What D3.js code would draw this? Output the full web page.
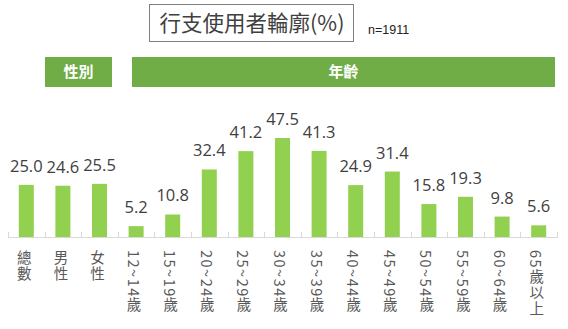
<!DOCTYPE html>
<html>
<head>
<meta charset="utf-8">
<script src="https://cdn.jsdelivr.net/npm/d3@7/dist/d3.min.js"></script>
<style>
  html, body { margin: 0; padding: 0; background: #fff; }
  svg { display: block; }
  .vlabel { writing-mode: vertical-rl; text-orientation: mixed; }
</style>
</head>
<body>
<svg id="chart" width="568" height="329"></svg>
<script>
// Categories and percentages
const categories = ["總數", "男性", "女性", "12~14歲", "15~19歲", "20~24歲", "25~29歲", "30~34歲",
                    "35~39歲", "40~44歲", "45~49歲", "50~54歲", "55~59歲", "60~64歲", "65歲以上"];
const values = [25.0, 24.6, 25.5, 5.2, 10.8, 32.4, 41.2, 47.5, 41.3, 24.9, 31.4, 15.8, 19.3, 9.8, 5.6];
const groupLabels = ["性別", "年齡"];
const titleText = "行支使用者輪廓(%)";
const sampleText = "n=1911";

const svg = d3.select("#chart");
const CJK = "'Noto Sans CJK TC', 'Noto Sans', sans-serif";
const NUM = "'Open Sans', 'Noto Sans', sans-serif";

const plot = { left: 8, right: 557, base: 237, top: 138 };

const x = d3.scaleBand().domain(categories).range([plot.left, plot.right]).paddingInner(0.59).paddingOuter(0.295);
const xEdge = d3.scaleBand().domain(categories).range([plot.left, plot.right]);
const y = d3.scaleLinear().domain([0, 47.5]).range([plot.base, plot.top]);

// Title box
svg.append("rect").attr("x", 149.5).attr("y", 4.5).attr("width", 204).attr("height", 37)
  .attr("fill", "#fff").attr("stroke", "#7f7f7f").attr("stroke-width", 1);
svg.append("text").attr("x", 252).attr("y", 31).attr("text-anchor", "middle")
  .attr("font-family", CJK).attr("font-size", 21.5).attr("fill", "#404040").text(titleText);
svg.append("text").attr("x", 368).attr("y", 34)
  .attr("font-family", "'Liberation Sans', Arial, sans-serif").attr("font-size", 12.5).attr("fill", "#222").text(sampleText);

// Group header bands
const headers = [
  { label: groupLabels[0], x0: 45, x1: 112 },
  { label: groupLabels[1], x0: 132, x1: 555 }
];
const hg = svg.append("g");
hg.selectAll("rect").data(headers).join("rect")
  .attr("x", d => d.x0).attr("y", 57).attr("width", d => d.x1 - d.x0).attr("height", 30)
  .attr("fill", "#70ad47");
hg.selectAll("text").data(headers).join("text")
  .attr("x", d => (d.x0 + d.x1) / 2).attr("y", 77).attr("text-anchor", "middle")
  .attr("font-family", CJK).attr("font-size", 15).attr("font-weight", "bold").attr("fill", "#fff")
  .text(d => d.label);

// Bars
svg.append("g").selectAll("rect").data(values).join("rect")
  .attr("x", (d, i) => x(categories[i]))
  .attr("y", d => y(d))
  .attr("width", x.bandwidth())
  .attr("height", d => plot.base - y(d))
  .attr("fill", "#92d050");

// Value labels
svg.append("g").selectAll("text").data(values).join("text")
  .attr("x", (d, i) => x(categories[i]) + x.bandwidth() / 2)
  .attr("y", d => y(d) - 13)
  .attr("text-anchor", "middle")
  .attr("font-family", NUM).attr("font-size", 16.5).attr("fill", "#404040")
  .text(d => d.toFixed(1));

// Axis line with inward tick marks at category boundaries
const axis = svg.append("g");
axis.append("line").attr("x1", plot.left).attr("x2", plot.right)
  .attr("y1", plot.base + 0.5).attr("y2", plot.base + 0.5)
  .attr("stroke", "#d9d9d9").attr("stroke-width", 1);
const edges = categories.map(c => xEdge(c)).concat([plot.right]);
axis.selectAll("line.tick").data(edges).join("line").attr("class", "tick")
  .attr("x1", d => Math.round(d) + 0.5).attr("x2", d => Math.round(d) + 0.5)
  .attr("y1", plot.base - 5).attr("y2", plot.base + 1)
  .attr("stroke", "#d9d9d9").attr("stroke-width", 1);

// Vertical category labels
svg.append("g").selectAll("text").data(categories).join("text")
  .attr("class", "vlabel")
  .attr("x", d => xEdge(d) + xEdge.bandwidth() / 2 - 2)
  .attr("y", 250)
  .attr("font-family", CJK).attr("font-size", 14.5).attr("fill", "#595959")
  .attr("letter-spacing", 1.5)
  .text(d => d);
</script>
</body>
</html>
